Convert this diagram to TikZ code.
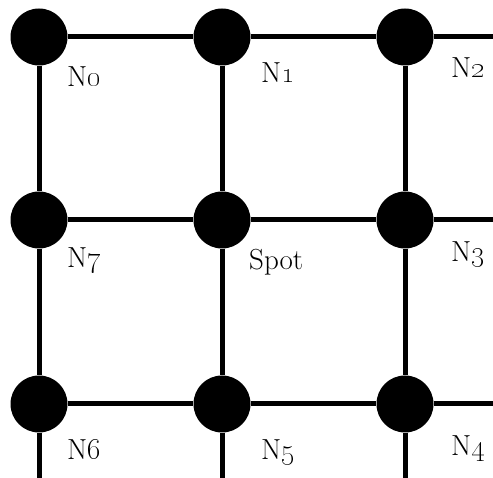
\documentclass[tikz,border=0pt]{standalone}
\begin{document}
\begin{tikzpicture}[x=1pt,y=-1pt,
  dot/.style={circle,fill=black,inner sep=0pt,minimum size=57pt},
  link/.style={line width=5pt},
  lbl/.style={anchor=base west,inner sep=0pt,font=\fontsize{29}{33}\selectfont}]
\useasboundingbox (0,0) rectangle (493,478);
% nodes
\node[dot] (n0) at (39,37) {};
\node[dot] (n1) at (222,37) {};
\node[dot] (n2) at (405,37) {};
\node[dot] (n7) at (39,220) {};
\node[dot] (sp) at (222,220) {};
\node[dot] (n3) at (405,220) {};
\node[dot] (n6) at (39,404) {};
\node[dot] (n5) at (222,404) {};
\node[dot] (n4) at (405,404) {};
% free ends
\coordinate (r0) at (493,37);
\coordinate (r1) at (493,220);
\coordinate (r2) at (493,404);
\coordinate (b0) at (39,478);
\coordinate (b1) at (222,478);
\coordinate (b2) at (405,478);
% connectors
\draw[link] (n0) -- (n1);
\draw[link] (n1) -- (n2);
\draw[link] (n2) -- (r0);
\draw[link] (n7) -- (sp);
\draw[link] (sp) -- (n3);
\draw[link] (n3) -- (r1);
\draw[link] (n6) -- (n5);
\draw[link] (n5) -- (n4);
\draw[link] (n4) -- (r2);
\draw[link] (n0) -- (n7);
\draw[link] (n7) -- (n6);
\draw[link] (n6) -- (b0);
\draw[link] (n1) -- (sp);
\draw[link] (sp) -- (n5);
\draw[link] (n5) -- (b1);
\draw[link] (n2) -- (n3);
\draw[link] (n3) -- (n4);
\draw[link] (n4) -- (b2);
% labels
\node[lbl] (l0) at (67,87) {N\oldstylenums{0}};
\node[lbl] (l1) at (261,83) {N\oldstylenums{1}};
\node[lbl] (l2) at (451,78) {N\oldstylenums{2}};
\node[lbl] (l7) at (67,268) {N\oldstylenums{7}};
\node[lbl] (ls) at (249,270) {Spot};
\node[lbl] (l3) at (451,262) {N\oldstylenums{3}};
\node[lbl] (l6) at (67,459) {N\oldstylenums{6}};
\node[lbl] (l5) at (261,459) {N\oldstylenums{5}};
\node[lbl] (l4) at (451,455) {N\oldstylenums{4}};
\end{tikzpicture}
\end{document}
